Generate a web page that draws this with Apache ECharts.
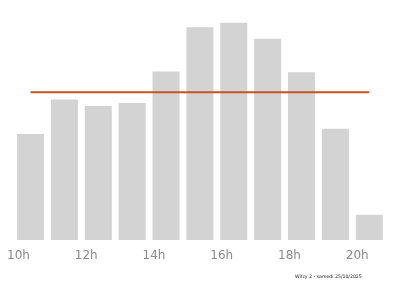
<!DOCTYPE html>
<html>
<head>
<meta charset="utf-8">
<script src="https://cdn.jsdelivr.net/npm/echarts@6/dist/echarts.min.js"></script>
<style>html,body{margin:0;padding:0;background:#fff;}#c{width:400px;height:286px;}</style>
</head>
<body>
<div id="c"></div>
<script>
const hours = ['10h','11h','12h','13h','14h','15h','16h','17h','18h','19h','20h'];
const affluence = [48.8, 64.7, 61.7, 63, 77.6, 97.9, 100, 92.6, 77.2, 51.2, 11.6];
const moyenne = 68;
const footnote = 'Wifzy 2 - samedi 25/10/2025';

const chart = echarts.init(document.getElementById('c'), null, {renderer: 'canvas'});
chart.setOption({
  animation: false,
  backgroundColor: '#ffffff',
  grid: {left: 13.6, right: 13.8, top: 22.7, bottom: 46},
  xAxis: {
    type: 'category',
    data: hours,
    boundaryGap: true,
    axisLine: {show: false},
    axisTick: {show: false},
    axisLabel: {
      interval: 1,
      color: '#8a8a8a',
      fontSize: 12,
      fontFamily: 'DejaVu Sans',
      margin: 10,
      padding: [0, 24, 0, 0]
    }
  },
  yAxis: {
    type: 'value',
    min: 0,
    max: 100,
    show: false,
    splitLine: {show: false}
  },
  series: [
    {
      type: 'bar',
      data: affluence,
      barWidth: 27,
      itemStyle: {color: '#d3d3d3'},
      silent: true
    },
    {
      type: 'line',
      data: hours.map(() => moyenne),
      symbol: 'none',
      lineStyle: {color: '#c8531f', width: 2},
      silent: true
    }
  ],
  graphic: [{
    type: 'text',
    left: 295,
    top: 274.5,
    style: {text: footnote, fontSize: 4.65, fill: '#222', fontFamily: 'DejaVu Sans'}
  }]
});
</script>
</body>
</html>
